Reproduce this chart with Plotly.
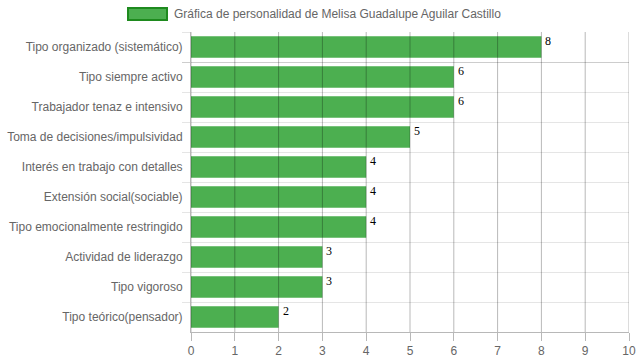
import plotly.graph_objects as go

categories = [
    "Tipo organizado (sistemático)",
    "Tipo siempre activo",
    "Trabajador tenaz e intensivo",
    "Toma de decisiones/impulsividad",
    "Interés en trabajo con detalles",
    "Extensión social(sociable)",
    "Tipo emocionalmente restringido",
    "Actividad de liderazgo",
    "Tipo vigoroso",
    "Tipo teórico(pensador)",
]
values = [8, 6, 6, 5, 4, 4, 4, 3, 3, 2]
x_ticks = list(range(0, 11))
series_name = "Gráfica de personalidad de Melisa Guadalupe Aguilar Castillo"

GREEN = "#4CAF50"
fig = go.Figure()
fig.add_trace(go.Bar(
    x=values, y=categories, orientation="h",
    marker=dict(color=GREEN, line=dict(width=0)),
    name=series_name, showlegend=False, hoverinfo="x+y",
))

# value labels
for c, v in zip(categories, values):
    fig.add_annotation(x=v, y=c, text=str(v), showarrow=False,
                       xanchor="left", yanchor="middle", xshift=2, yshift=6,
                       font=dict(family="Liberation Serif, Times New Roman, serif", size=12, color="#000"))

# vertical gridlines drawn above bars
for t in x_ticks:
    fig.add_shape(type="line", xref="x", yref="paper", x0=t, x1=t, y0=0, y1=1,
                  line=dict(color="rgba(0,0,0,0.28)", width=1), layer="above")

# legend (Chart.js style box + text)
fig.add_shape(type="rect", xref="paper", yref="paper",
              x0=(128 - 191) / 438, x1=(167 - 191) / 438,
              y0=(332 - 20) / 300, y1=(332 - 8) / 300,
              fillcolor=GREEN, line=dict(color="#1E8A1E", width=2))
fig.add_annotation(xref="paper", yref="paper", x=(172 - 191) / 438, y=(332 - 14) / 300,
                   text=series_name, showarrow=False, xanchor="left", yanchor="middle",
                   font=dict(family="Liberation Sans, Arial, sans-serif", size=12, color="#666"))

fig.update_layout(
    width=639, height=360,
    margin=dict(l=191, r=10, t=32, b=28),
    paper_bgcolor="white", plot_bgcolor="white",
    bargap=0.28,
    font=dict(family="Liberation Sans, Arial, sans-serif", size=12, color="#666"),
    xaxis=dict(range=[0, 10], tickvals=x_ticks, showgrid=False, zeroline=False,
               automargin=False,
               ticks="outside", ticklen=8, tickcolor="rgba(0,0,0,0.28)",
               showline=True, linecolor="rgba(0,0,0,0.28)", tickfont=dict(color="#666", size=12)),
    yaxis=dict(categoryorder="array", categoryarray=categories, autorange="reversed",
               automargin=False, ticklabelstandoff=5,
               tickson="boundaries", showgrid=True, gridcolor="rgba(0,0,0,0.1)",
               ticks="outside", ticklen=8, tickcolor="rgba(0,0,0,0.1)",
               showline=True, linecolor="rgba(0,0,0,0.28)", zeroline=False,
               tickfont=dict(color="#666", size=12)),
)

fig.write_html("out.html", config={"displayModeBar": False},
               post_script="document.body.style.margin='0';document.body.style.overflow='hidden';")
